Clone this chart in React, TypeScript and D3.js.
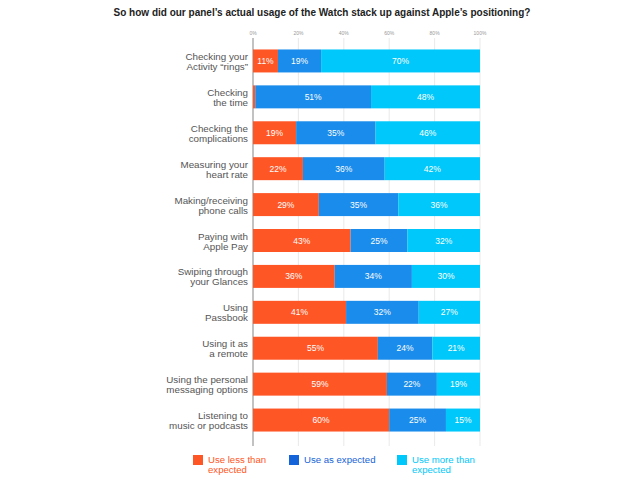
import React from "react";
import * as d3 from "d3";

const categories: string[][] = [
  ["Checking your", "Activity \u201crings\u201d"],
  ["Checking", "the time"],
  ["Checking the", "complications"],
  ["Measuring your", "heart rate"],
  ["Making/receiving", "phone calls"],
  ["Paying with", "Apple Pay"],
  ["Swiping through", "your Glances"],
  ["Using", "Passbook"],
  ["Using it as", "a remote"],
  ["Using the personal", "messaging options"],
  ["Listening to", "music or podcasts"],
];
const lessThanExpected = [11, 1, 19, 22, 29, 43, 36, 41, 55, 59, 60];
const asExpected = [19, 51, 35, 36, 35, 25, 34, 32, 24, 22, 25];
const moreThanExpected = [70, 48, 46, 42, 36, 32, 30, 27, 21, 19, 15];
const seriesNames = ["Use less than expected", "Use as expected", "Use more than expected"];
const tickValues = [0, 20, 40, 60, 80, 100];
const title = "So how did our panel\u2019s actual usage of the Watch stack up against Apple\u2019s positioning?";

const barColors = ["#FF5626", "#1A8CEB", "#00C8FA"];
const legendColors = ["#FF5626", "#1463D8", "#00C8FA"];
const legendLines = [["Use less than", "expected"], ["Use as expected"], ["Use more than", "expected"]];

export default function App() {
  const W = 640, H = 480;
  const x = d3.scaleLinear().domain([0, 100]).range([253, 480]);
  const y = d3.scaleBand<number>().domain(d3.range(categories.length)).range([43, 438]).paddingInner(0.36).paddingOuter(0.18);
  const rows = categories.map((c, i) => ({ i, vals: [lessThanExpected[i], asExpected[i], moreThanExpected[i]] }));
  const stack = d3.stack<any, any>().keys([0, 1, 2]).value((d: any, k: number) => d.vals[k]);
  const stacked = stack(rows as any);
  const font = "Helvetica, Arial, 'Liberation Sans', sans-serif";
  const legendX = [193, 289, 397];

  return (
    <svg width={W} height={H} style={{ display: "block", position: "absolute", left: 0, top: 0 }} fontFamily={font}>
      <rect width={W} height={H} fill="#fff" />
      <text x={322} y={16} textAnchor="middle" fontSize={10} fontWeight="bold" fill="#222">{title}</text>
      {tickValues.map((t) => (
        <g key={t}>
          <line x1={x(t)} x2={x(t)} y1={38} y2={446} stroke={t === 0 ? "#999" : "#e3e3e3"} strokeWidth={t === 0 ? 1.2 : 0.8} />
          <text x={x(t)} y={35} textAnchor="middle" fontSize={5} fill="#999">{t}%</text>
        </g>
      ))}
      {stacked.map((s, k) => (
        <g key={k}>
          {s.map((d: any, i: number) => {
            const x0 = x(d[0]), x1 = x(d[1]);
            const yy = y(i)!;
            const v = d[1] - d[0];
            return (
              <g key={i}>
                <rect x={x0} y={yy} width={x1 - x0} height={y.bandwidth()} fill={barColors[k]} />
                {v >= 5 && (
                  <text x={(x0 + x1) / 2} y={yy + y.bandwidth() / 2 + 3} textAnchor="middle" fontSize={8.5} fill="#fff">{v}%</text>
                )}
              </g>
            );
          })}
        </g>
      ))}
      {categories.map((c, i) => {
        const cy = y(i)! + y.bandwidth() / 2;
        return (
          <text key={i} x={248} textAnchor="end" fontSize={9.8} fill="#555">
            <tspan x={248} y={cy - 1}>{c[0]}</tspan>
            <tspan x={248} y={cy + 9}>{c[1]}</tspan>
          </text>
        );
      })}
      {seriesNames.map((n, k) => (
        <g key={n}>
          <rect x={legendX[k]} y={455} width={10} height={10} fill={legendColors[k]} />
          <text fontSize={9.6} fill={legendColors[k]}>
            {legendLines[k].map((l, j) => (
              <tspan key={j} x={legendX[k] + 15} y={463 + j * 9.8}>{l}</tspan>
            ))}
          </text>
        </g>
      ))}
    </svg>
  );
}
